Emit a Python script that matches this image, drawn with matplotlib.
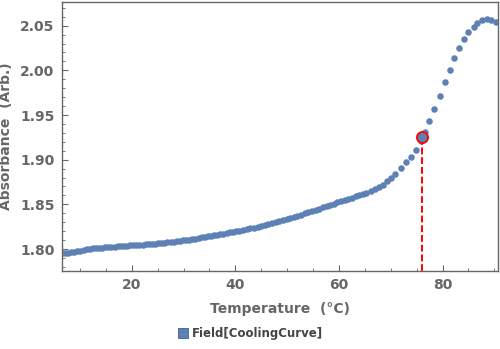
import numpy as np
import matplotlib
matplotlib.use("Agg")
import matplotlib.pyplot as plt
from matplotlib.ticker import MultipleLocator
from matplotlib.lines import Line2D

# cooling curve (denser sampling at low temperature)
temperature = [6.5, 7.1, 7.7, 8.3, 8.9, 9.5, 10.1, 10.7, 11.3, 11.9, 12.5, 13.1, 13.7,
               14.3, 14.9, 15.5, 16.1, 16.7, 17.3, 17.9, 18.5, 19.1, 19.7, 20.3, 20.9,
               21.5, 22.1, 22.7, 23.3, 23.9, 24.5, 25.1, 25.7, 26.3, 26.9, 27.5, 28.1,
               28.7, 29.3, 29.9, 30.5, 31.1, 31.7, 32.3, 32.9, 33.5, 34.1, 34.7, 35.3,
               35.9, 36.5, 37.1, 37.7, 38.3, 38.9, 39.5, 40.1,
               40.8, 41.5, 42.2, 42.9, 43.6, 44.3, 45.0, 45.7, 46.4, 47.1, 47.8, 48.5,
               49.2, 49.9, 50.6, 51.3, 52.0, 52.7, 53.4, 54.1, 54.8, 55.5, 56.2, 56.9,
               57.6, 58.3, 59.0, 59.7, 60.4, 61.1, 61.8, 62.5, 63.2, 63.9, 64.6, 65.3,
               66.1, 66.9, 67.7, 68.5, 69.3, 70.1, 70.8, 71.9, 72.9, 73.9, 74.8,
               75.8, 76.6, 77.4, 78.4, 79.5, 80.4, 81.4, 82.2, 83.1, 84.1, 84.9, 86.0,
               86.7, 87.7, 88.6, 89.4, 90.3]
absorbance = [1.7953, 1.7957, 1.7961, 1.7966, 1.7971, 1.7977, 1.7983, 1.7989, 1.7995,
              1.8001, 1.8006, 1.8010, 1.8013, 1.8016, 1.8019, 1.8022, 1.8025, 1.8027,
              1.8030, 1.8032, 1.8035, 1.8037, 1.8040, 1.8042, 1.8045, 1.8047, 1.8050,
              1.8052, 1.8055, 1.8057, 1.8060, 1.8062, 1.8066, 1.8070, 1.8074, 1.8078,
              1.8082, 1.8086, 1.8091, 1.8096, 1.8101, 1.8106, 1.8111, 1.8117, 1.8123,
              1.8129, 1.8135, 1.8141, 1.8148, 1.8154, 1.8160, 1.8166, 1.8173, 1.8180,
              1.8186, 1.8193, 1.8199,
              1.8207, 1.8215, 1.8223, 1.8231, 1.8240, 1.8248, 1.8256, 1.8266, 1.8277,
              1.8288, 1.8299, 1.8310, 1.8322, 1.8334, 1.8346, 1.8358, 1.8371, 1.8384,
              1.8398, 1.8411, 1.8425, 1.8438, 1.8452, 1.8465, 1.8479, 1.8493, 1.8507,
              1.8521, 1.8535, 1.8549, 1.8562, 1.8576, 1.8590, 1.8604, 1.8618, 1.8632,
              1.8648, 1.8667, 1.8690, 1.8718, 1.8757, 1.8796, 1.8836, 1.8903, 1.8977,
              1.9033, 1.9107, 1.9210, 1.9312, 1.9430, 1.9566, 1.9710, 1.9865, 2.0002,
              2.0133, 2.0252, 2.0350, 2.0427, 2.0487, 2.0531, 2.0562, 2.0580, 2.0569,
              2.0543]

# melting point marker
tm = 76.1
tm_abs = 1.925

blue = "#5E81B5"
gray = "#666666"

fig = plt.figure(figsize=(5, 3.49), dpi=100)
ax = fig.add_axes([0.123, 0.2235, 0.873, 0.772])

ax.plot(temperature, absorbance, "o", color=blue, markersize=4.7, markeredgewidth=0)

ylo, yhi = 1.7754, 2.077
ax.plot([tm, tm], [ylo, tm_abs], color="red", lw=1.4, dashes=(3.5, 1.5))
ax.plot(tm, tm_abs, "o", markersize=8, markerfacecolor=blue,
        markeredgecolor="red", markeredgewidth=1.3)

ax.set_xlim(6.45, 90.7)
ax.set_ylim(ylo, yhi)

ax.xaxis.set_major_locator(MultipleLocator(20))
ax.xaxis.set_minor_locator(MultipleLocator(5))
ax.yaxis.set_major_locator(MultipleLocator(0.05))
ax.yaxis.set_minor_locator(MultipleLocator(0.01))
ax.yaxis.set_major_formatter(plt.FormatStrFormatter("%.2f"))

for s in ax.spines.values():
    s.set_color(gray)
    s.set_linewidth(1.0)

ax.tick_params(which="both", direction="in", top=False, right=False, color=gray,
               labelcolor=gray, labelsize=10)
ax.tick_params(which="major", length=4, width=0.8, pad=5)
ax.tick_params(which="minor", length=2, width=0.6)
for lab in ax.get_xticklabels() + ax.get_yticklabels():
    lab.set_fontweight("bold")

ax.set_xlabel("Temperature  (\u00b0C)", fontsize=10, fontweight="bold", color=gray,
              labelpad=7)
ax.set_ylabel("Absorbance  (Arb.)", fontsize=10, fontweight="bold", color=gray,
              labelpad=5)

handle = Line2D([], [], marker="s", linestyle="none", markersize=6.5,
                markerfacecolor=blue, markeredgecolor="#3f5f8f", markeredgewidth=0.6)
fig.legend([handle], ["Field[CoolingCurve]"], loc="center", bbox_to_anchor=(0.5, 0.043),
           frameon=False, handletextpad=0.2, handlelength=1.0,
           prop={"weight": "bold", "size": 8.5}, labelcolor="#444444")

fig.savefig("out.png", dpi=100)
